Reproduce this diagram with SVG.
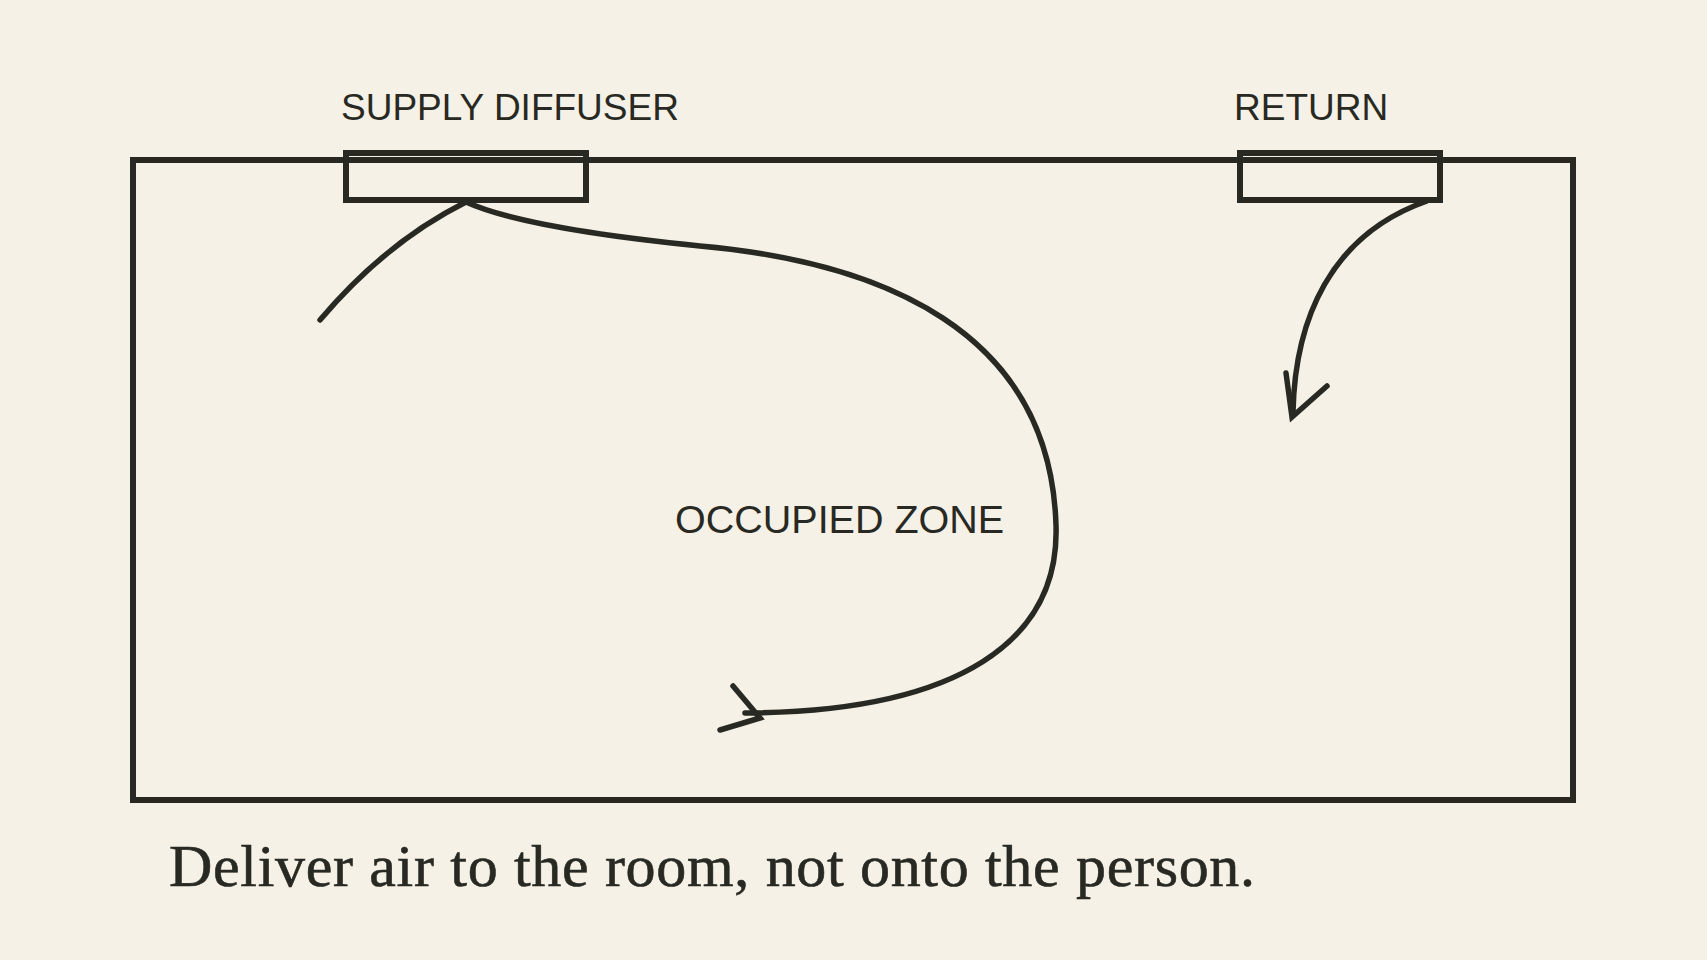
<svg xmlns="http://www.w3.org/2000/svg" width="1707" height="960" viewBox="0 0 1707 960">
<style>
.bg{fill:#f5f1e7}
.box{fill:none;stroke:#282922;stroke-width:6}
.flow{fill:none;stroke:#282922;stroke-width:5.5;stroke-linecap:round;stroke-linejoin:miter}
.lbl{font-family:"Liberation Sans",Arial,sans-serif;fill:#282922}
.cap{font-family:"Liberation Serif","Times New Roman",serif;fill:#282922;stroke:#282922;stroke-width:0.6}
</style>
<rect class="bg" x="0" y="0" width="1707" height="960"/>
<g id="room">
<rect class="box" x="133" y="160" width="1440" height="640"/>
</g>
<g id="supply-diffuser">
<rect class="box" x="346" y="153" width="240" height="47"/>
<text class="lbl" x="341" y="120" font-size="37">SUPPLY DIFFUSER</text>
</g>
<g id="return">
<rect class="box" x="1240" y="153" width="200" height="47"/>
<text class="lbl" x="1234" y="120" font-size="37">RETURN</text>
</g>
<g id="occupied-zone">
<text class="lbl" x="675" y="533" font-size="39.5">OCCUPIED ZONE</text>
</g>
<g id="connectors">
<path class="flow" d="M466,202 C430,220 375,255 320,320"/>
<path class="flow" d="M466,202 C510,222 600,236 700,246 C880,262 1050,330 1056,525 C1060,640 960,712 745,713"/>
<polyline class="flow" points="733,686 760,718 720,730"/>
<path class="flow" d="M1427,201 C1330,235 1295,320 1293,412"/>
<polyline class="flow" points="1286,373 1292,417 1327,386"/>
</g>
<g id="caption">
<text class="cap" x="169" y="886" font-size="60" textLength="1086" lengthAdjust="spacing">Deliver air to the room, not onto the person.</text>
</g>
</svg>
